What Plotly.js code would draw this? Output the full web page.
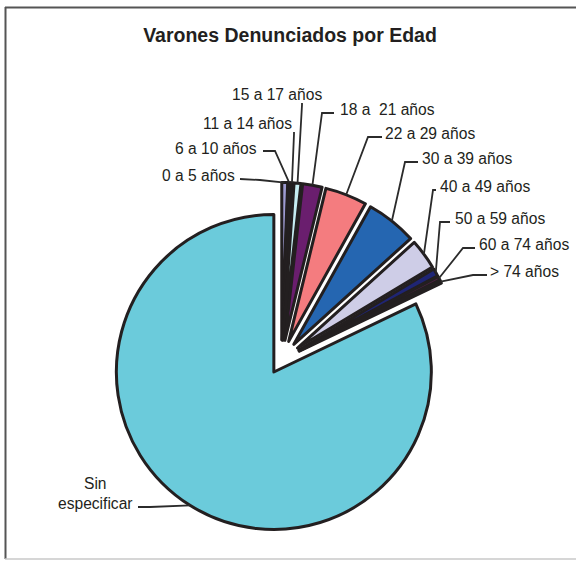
<!DOCTYPE html>
<html>
<head>
<meta charset="utf-8">
<script src="https://cdn.plot.ly/plotly-3.0.1.min.js"></script>
<style>
html,body{margin:0;padding:0;background:#fff;}
#chart{width:576px;height:561px;}
</style>
</head>
<body>
<div id="chart"></div>
<script>
// ---- data ----
var titleText = "Varones Denunciados por Edad";
var categories = ["0 a 5 años","6 a 10 años","11 a 14 años","15 a 17 años","18 a\u00A0 21 años","22 a 29 años","30 a 39 años","40 a 49 años","50 a 59 años","60 a 74 años","> 74 años","Sin especificar"];
var values = [6, 2, 3, 7, 20, 43, 52, 31, 8, 4, 3, 822];

// ---- styles ----
var colors = ["#9D9BD1","#8E3A63","#F4F1C0","#C6EDF2","#6A1E6E","#F47C7F","#2566B1","#CECDE7","#1F2574","#4A2040","#3A3A30","#6BCBDB"];
var pulls = categories.map(function(c){ return c === "Sin especificar" ? 0.09 : 0.127; });

var W = 576, H = 561;
function px(x){ return x / W; }
function py(y){ return 1 - y / H; }

// pie geometry (pixels)
var cx = 281.4, cy = 360, r = 157.5;
var maxPull = Math.max.apply(null, pulls);
var half = r * (1 + maxPull);
var domX = [px(cx - half), px(cx + half)];
var domY = [py(cy + half), py(cy - half)];

// label placement (pixels): text start x, text center y, leader start, elbow
var labelPos = [
  {x:160, y:175, ls:[240,179], el:[260,180]},
  {x:173, y:148, ls:[263,151], el:[275,151]},
  {x:201, y:123, ls:[294,132], el:[294,134]},
  {x:230, y:94,  ls:[302,103], el:[302,105]},
  {x:338, y:109, ls:[334,113], el:[322,113]},
  {x:383, y:133, ls:[382,137], el:[368,137]},
  {x:420, y:158, ls:[418,162], el:[405,162]},
  {x:438, y:186, ls:[436,190], el:[433,190]},
  {x:453, y:218, ls:[450,222], el:[440,222]},
  {x:477, y:244, ls:[475,248], el:[463,248]},
  {x:488, y:271, ls:[487,275], el:[473,275]},
  {x:95,  y:493, ls:[138,507], el:[150,507], center:true}
];

var total = values.reduce(function(a,b){return a+b;},0);
var annotations = [], shapes = [];
var cum = 0;
for (var i = 0; i < values.length; i++) {
  var mid = (cum + values[i] / 2) / total * 2 * Math.PI;
  cum += values[i];
  var R = r * (1 + pulls[i]);
  var ex = cx + R * Math.sin(mid), ey = cy - R * Math.cos(mid);
  var lp = labelPos[i];
  var txt = lp.center ? categories[i].replace(" ", "<br>") : categories[i];
  annotations.push({
    text: txt, showarrow: false,
    x: px(lp.x), y: py(lp.y), xref: "paper", yref: "paper",
    xanchor: lp.center ? "center" : "left", yanchor: "middle",
    align: "center",
    font: {family: "Liberation Sans, Arial, sans-serif", size: 15.6, color: "#231F20"}
  });
  shapes.push({
    type: "path", xref: "paper", yref: "paper",
    path: "M " + px(lp.ls[0]) + "," + py(lp.ls[1]) + " L " + px(lp.el[0]) + "," + py(lp.el[1]) + " L " + px(ex) + "," + py(ey),
    line: {color: "#2b2b2b", width: 1.8}
  });
}

// frame
shapes.push({type:"line", xref:"paper", yref:"paper", x0:px(5.5), x1:px(5.5), y0:py(7), y1:py(559), line:{color:"#555555", width:2}});
shapes.push({type:"line", xref:"paper", yref:"paper", x0:px(5), x1:px(580), y0:py(7.5), y1:py(7.5), line:{color:"#555555", width:2}});
shapes.push({type:"line", xref:"paper", yref:"paper", x0:px(5), x1:px(580), y0:py(559), y1:py(559), line:{color:"#c8c8c8", width:1.5}});

var trace = {
  type: "pie",
  labels: categories,
  values: values,
  sort: false,
  direction: "clockwise",
  rotation: 0,
  pull: pulls,
  textinfo: "none",
  hoverinfo: "label+value",
  marker: {colors: colors, line: {color: "#231F20", width: 3}},
  domain: {x: domX, y: domY},
  showlegend: false
};

var layout = {
  width: W, height: H,
  margin: {l:0, r:0, t:0, b:0},
  paper_bgcolor: "#ffffff",
  plot_bgcolor: "#ffffff",
  showlegend: false,
  title: {
    text: titleText,
    x: px(290), xanchor: "center", xref: "paper",
    y: py(35), yanchor: "middle", yref: "paper",
    font: {family: "Liberation Sans, Arial, sans-serif", size: 19.5, color: "#231F20", weight: "bold"}
  },
  annotations: annotations,
  shapes: shapes
};

Plotly.newPlot("chart", [trace], layout, {staticPlot: true, displayModeBar: false});
</script>
</body>
</html>
